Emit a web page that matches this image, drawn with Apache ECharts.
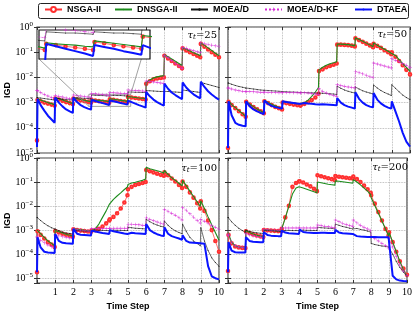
<!DOCTYPE html>
<html><head><meta charset="utf-8">
<script src="https://cdn.jsdelivr.net/npm/echarts@6/dist/echarts.min.js"></script>
<style>html,body{margin:0;padding:0;background:#fff}#c{width:415px;height:312px}</style>
</head><body><div id="c"></div>
<script>
// x positions (time steps: each unit = one environmental change period)
const TIME_STEPS = [0,0.03,0.2,0.4,0.6,0.8,0.97,
 1,1.2,1.4,1.6,1.8,1.97, 2,2.2,2.4,2.6,2.8,2.97, 3,3.2,3.4,3.6,3.8,3.97,
 4,4.2,4.4,4.6,4.8,4.97, 5,5.2,5.4,5.6,5.8,5.97, 6,6.2,6.4,6.6,6.8,6.97,
 7,7.2,7.4,7.6,7.8,7.97, 8,8.2,8.4,8.6,8.8,8.97, 9,9.2,9.4,9.6,9.8,10];
const SERIES_NAMES = ['NSGA-II','DNSGA-II','MOEA/D','MOEA/D-KF','DTAEA'];
const TAU_LABELS = ['25','50','100','200'];
const X_TICK_LABELS = ['1','2','3','4','5','6','7','8','9','10'];
const INSET_X_RANGE = [2.85, 5.15];
const INSET_Y_LOG_RANGE = [-3.15, -2.67];

// log10(IGD)
// tau_t = 25
const P1_NSGA2 = [-4.5,-2.9,-2.95,-3.0,-3.04,-3.08,-3.12,
-2.84,-2.88,-2.93,-2.98,-3.02,-3.06, -2.84,-2.88,-2.91,-2.94,-2.97,-3.0,
-2.9,-2.92,-2.94,-2.96,-2.98,-3.0, -2.87,-2.89,-2.92,-2.94,-2.96,-2.98,
-2.78,-2.8,-2.82,-2.84,-2.86,-2.88, -2.25,-2.15,-2.08,-2.04,-2.02,-2.0,
-1.14,-1.25,-1.35,-1.45,-1.55,-1.64, -0.85,-0.93,-1.0,-1.07,-1.14,-1.2,
-0.67,-0.78,-0.89,-1.0,-1.1,-1.2];
const P1_DNSGA2 = [-4.5,-2.86,-2.9,-2.95,-3.0,-3.04,-3.08,
-2.8,-2.85,-2.9,-2.95,-3.0,-3.03, -2.82,-2.85,-2.88,-2.91,-2.94,-2.97,
-2.88,-2.9,-2.91,-2.92,-2.94,-2.95, -2.85,-2.87,-2.89,-2.91,-2.93,-2.95,
-2.76,-2.78,-2.8,-2.82,-2.83,-2.84, -2.2,-2.1,-2.02,-1.98,-1.95,-1.93,
-1.1,-1.18,-1.27,-1.36,-1.45,-1.53, -0.81,-0.88,-0.95,-1.02,-1.08,-1.14,
-0.63,-0.73,-0.83,-0.93,-1.04,-1.14];
const P1_MOEAD = [-2.8,-2.8,-2.82,-2.84,-2.86,-2.88,-2.9,
-2.82,-2.84,-2.86,-2.88,-2.89,-2.9, -2.8,-2.81,-2.82,-2.83,-2.84,-2.85,
-2.7,-2.71,-2.72,-2.72,-2.73,-2.74, -2.7,-2.71,-2.72,-2.72,-2.73,-2.74,
-2.58,-2.58,-2.59,-2.59,-2.6,-2.6, -2.52,-2.53,-2.54,-2.55,-2.56,-2.56,
-2.55,-2.56,-2.57,-2.58,-2.59,-2.6, -2.5,-2.52,-2.54,-2.56,-2.58,-2.6,
-2.2,-2.24,-2.28,-2.32,-2.36,-2.4];
const P1_MOEADKF = [-2.52,-2.53,-2.6,-2.68,-2.74,-2.8,-2.84,
-2.72,-2.75,-2.78,-2.82,-2.85,-2.88, -2.7,-2.72,-2.74,-2.76,-2.78,-2.8,
-2.64,-2.65,-2.67,-2.68,-2.7,-2.71, -2.6,-2.61,-2.62,-2.63,-2.64,-2.65,
-2.5,-2.51,-2.52,-2.53,-2.54,-2.55, -2.14,-2.16,-2.18,-2.2,-2.22,-2.25,
-1.12,-1.22,-1.33,-1.44,-1.55,-1.65, -0.81,-0.85,-0.9,-0.94,-0.98,-1.02,
-0.63,-0.66,-0.69,-0.72,-0.75,-0.77];
const P1_DTAEA = [-4.76,-2.85,-3.1,-3.32,-3.52,-3.67,-3.8,
-2.8,-3.0,-3.15,-3.27,-3.35,-3.41, -2.8,-2.98,-3.1,-3.18,-3.24,-3.28,
-2.9,-2.94,-2.98,-3.02,-3.06,-3.1, -2.92,-2.95,-2.98,-3.02,-3.05,-3.08,
-2.92,-2.98,-3.04,-3.1,-3.15,-3.2, -2.58,-2.75,-2.88,-2.98,-3.06,-3.12,
-2.25,-2.45,-2.6,-2.7,-2.79,-2.86, -2.2,-2.4,-2.55,-2.67,-2.76,-2.83,
-2.17,-2.38,-2.55,-2.68,-2.79,-2.88];

// tau_t = 50
const P2_NSGA2 = [-4.8,-2.97,-3.1,-3.22,-3.34,-3.46,-3.56,
-2.97,-3.08,-3.18,-3.27,-3.35,-3.42, -2.95,-3.02,-3.1,-3.17,-3.22,-3.27,
-3.0,-3.02,-3.05,-3.08,-3.1,-3.12, -3.1,-3.05,-2.98,-2.9,-2.8,-2.65,
-1.75,-1.68,-1.6,-1.55,-1.5,-1.45, -0.7,-0.7,-0.71,-0.72,-0.74,-0.77,
-0.45,-0.52,-0.59,-0.66,-0.73,-0.8, -0.67,-0.75,-0.83,-0.92,-1.0,-1.08,
-1.0,-1.18,-1.35,-1.52,-1.7,-1.88];
const P2_DNSGA2 = [-4.8,-2.95,-3.08,-3.2,-3.32,-3.44,-3.54,
-2.95,-3.06,-3.16,-3.25,-3.33,-3.4, -2.92,-3.0,-3.07,-3.13,-3.19,-3.25,
-2.95,-2.98,-3.0,-3.02,-3.04,-3.05, -3.05,-3.0,-2.9,-2.75,-2.58,-2.4,
-1.7,-1.6,-1.52,-1.46,-1.42,-1.38, -0.68,-0.68,-0.69,-0.7,-0.72,-0.75,
-0.43,-0.5,-0.57,-0.64,-0.71,-0.78, -0.63,-0.72,-0.8,-0.88,-0.96,-1.04,
-0.97,-1.13,-1.29,-1.45,-1.6,-1.76];
const P2_MOEAD = [-2.22,-2.22,-2.27,-2.32,-2.36,-2.39,-2.42,
-2.42,-2.44,-2.46,-2.48,-2.5,-2.51, -2.51,-2.52,-2.53,-2.54,-2.55,-2.56,
-2.56,-2.57,-2.58,-2.58,-2.59,-2.6, -2.6,-2.6,-2.61,-2.61,-2.62,-2.62,
-2.62,-2.63,-2.64,-2.65,-2.66,-2.68, -2.35,-2.43,-2.5,-2.55,-2.59,-2.62,
-2.38,-2.46,-2.53,-2.58,-2.62,-2.66, -2.3,-2.42,-2.52,-2.6,-2.66,-2.72,
-2.29,-2.43,-2.57,-2.7,-2.8,-2.88];
const P2_MOEADKF = [-2.42,-2.42,-2.46,-2.5,-2.53,-2.55,-2.57,
-2.55,-2.56,-2.57,-2.58,-2.59,-2.6, -2.58,-2.59,-2.6,-2.6,-2.61,-2.61,
-2.6,-2.6,-2.6,-2.61,-2.61,-2.62, -2.6,-2.61,-2.62,-2.64,-2.66,-2.68,
-2.45,-2.55,-2.62,-2.68,-2.72,-2.75, -2.29,-2.32,-2.35,-2.38,-2.4,-2.42,
-1.76,-1.81,-1.86,-1.92,-1.97,-2.02, -1.43,-1.47,-1.51,-1.55,-1.59,-1.63,
-1.26,-1.32,-1.38,-1.45,-1.52,-1.6];
const P2_DTAEA = [-4.8,-2.95,-3.5,-3.8,-3.88,-3.92,-3.94,
-2.95,-3.15,-3.27,-3.35,-3.41,-3.45, -2.92,-3.05,-3.13,-3.18,-3.21,-3.24,
-2.95,-2.98,-3.0,-3.02,-3.04,-3.05, -3.0,-3.02,-3.04,-3.05,-3.07,-3.08,
-3.06,-3.07,-3.08,-3.09,-3.1,-3.11, -2.82,-3.0,-3.1,-3.16,-3.2,-3.24,
-2.59,-2.85,-3.0,-3.1,-3.16,-3.19, -2.62,-2.88,-3.03,-3.13,-3.2,-3.24,
-2.95,-3.35,-3.75,-4.2,-4.55,-4.75];

// tau_t = 100
const P3_NSGA2 = [-4.75,-3.05,-3.2,-3.35,-3.5,-3.6,-3.7,
-3.04,-3.1,-3.15,-3.19,-3.23,-3.27, -2.97,-3.0,-3.02,-3.04,-3.06,-3.07,
-3.02,-3.0,-2.95,-2.85,-2.72,-2.6, -2.55,-2.45,-2.3,-2.1,-1.85,-1.55,
-1.3,-1.2,-1.12,-1.08,-1.04,-1.0, -0.5,-0.55,-0.6,-0.65,-0.7,-0.74,
-0.6,-0.72,-0.85,-0.98,-1.12,-1.25, -0.98,-1.2,-1.43,-1.65,-1.88,-2.1,
-1.8,-2.2,-2.6,-3.0,-3.45,-3.9];
const P3_DNSGA2 = [-3.0,-3.0,-3.15,-3.3,-3.45,-3.55,-3.65,
-3.02,-3.07,-3.12,-3.17,-3.21,-3.25, -2.95,-2.97,-2.99,-3.01,-3.03,-3.05,
-3.0,-2.95,-2.75,-2.47,-2.2,-1.93, -1.86,-1.72,-1.58,-1.45,-1.31,-1.2,
-1.1,-1.04,-1.01,-0.97,-0.93,-0.87, -0.38,-0.45,-0.49,-0.53,-0.57,-0.63,
-0.52,-0.68,-0.82,-0.93,-1.05,-1.16, -0.93,-1.15,-1.38,-1.6,-1.82,-2.02,
-1.78,-2.1,-2.45,-2.78,-3.1,-3.42];
const P3_MOEAD = [-2.47,-2.47,-2.6,-2.72,-2.82,-2.9,-2.95,
-2.95,-3.02,-3.08,-3.12,-3.14,-3.16, -3.0,-3.02,-3.03,-3.04,-3.05,-3.05,
-3.0,-3.0,-3.01,-3.01,-3.02,-3.02, -3.0,-3.0,-3.01,-3.01,-3.02,-3.02,
-2.88,-2.9,-2.92,-2.93,-2.94,-2.95, -2.55,-2.65,-2.73,-2.79,-2.84,-2.87,
-2.62,-2.8,-2.93,-3.03,-3.1,-3.15, -2.75,-3.05,-3.3,-3.45,-3.56,-3.65,
-2.9,-3.45,-3.85,-4.15,-4.35,-4.5];
const P3_MOEADKF = [-3.29,-3.29,-3.42,-3.53,-3.62,-3.69,-3.74,
-3.2,-3.24,-3.27,-3.3,-3.33,-3.36, -2.95,-2.98,-3.0,-3.02,-3.04,-3.06,
-2.93,-2.93,-2.93,-2.93,-2.93,-2.93, -2.92,-2.92,-2.92,-2.92,-2.92,-2.92,
-2.75,-2.76,-2.77,-2.78,-2.8,-2.81, -2.47,-2.55,-2.61,-2.66,-2.71,-2.75,
-2.13,-2.22,-2.3,-2.38,-2.48,-2.58, -2.05,-2.18,-2.32,-2.46,-2.6,-2.72,
-2.55,-2.63,-2.72,-2.8,-2.88,-2.96];
const P3_DTAEA = [-4.75,-3.3,-3.72,-3.9,-3.93,-3.94,-3.95,
-3.16,-3.45,-3.53,-3.55,-3.56,-3.57, -2.95,-3.15,-3.19,-3.2,-3.21,-3.22,
-3.02,-3.06,-3.09,-3.12,-3.14,-3.16, -3.0,-3.05,-3.08,-3.11,-3.14,-3.16,
-3.08,-3.11,-3.13,-3.14,-3.15,-3.16, -2.75,-3.0,-3.1,-3.17,-3.22,-3.25,
-2.88,-3.15,-3.25,-3.3,-3.35,-3.4, -3.21,-3.45,-3.52,-3.53,-3.54,-3.55,
-3.55,-3.57,-4.5,-4.92,-5.0,-5.05];

// tau_t = 200
const P4_NSGA2 = [-4.7,-3.2,-3.55,-3.68,-3.72,-3.74,-3.75,
-3.05,-3.12,-3.18,-3.22,-3.26,-3.29, -3.0,-3.01,-3.02,-3.03,-3.04,-3.05,
-2.95,-2.47,-1.99,-1.2,-1.04,-0.98, -0.97,-1.02,-1.1,-1.18,-1.28,-1.38,
-0.72,-0.76,-0.8,-0.84,-0.88,-0.92, -0.75,-0.78,-0.8,-0.82,-0.84,-0.85,
-0.77,-0.88,-1.0,-1.15,-1.3,-1.45, -1.55,-1.9,-2.25,-2.6,-2.95,-3.22,
-3.09,-3.5,-3.9,-4.3,-4.6,-4.86];
const P4_DNSGA2 = [-3.1,-3.15,-3.5,-3.65,-3.7,-3.72,-3.73,
-3.02,-3.1,-3.16,-3.21,-3.25,-3.29, -3.0,-3.0,-3.01,-3.02,-3.03,-3.04,
-2.95,-2.5,-2.0,-1.5,-1.25,-1.2, -1.2,-1.25,-1.3,-1.35,-1.4,-1.45,
-1.0,-1.03,-1.06,-1.09,-1.11,-1.13, -0.95,-0.97,-0.99,-1.01,-1.03,-1.05,
-0.9,-1.0,-1.12,-1.25,-1.38,-1.52, -1.65,-1.98,-2.3,-2.62,-2.95,-3.25,
-3.1,-3.5,-3.9,-4.3,-4.65,-4.93];
const P4_MOEAD = [-2.47,-2.47,-2.65,-2.8,-2.92,-3.02,-3.09,
-3.0,-3.05,-3.09,-3.11,-3.13,-3.14, -3.0,-3.01,-3.02,-3.03,-3.04,-3.05,
-3.0,-3.01,-3.01,-3.02,-3.02,-3.02, -3.0,-3.0,-3.01,-3.01,-3.02,-3.02,
-2.88,-2.9,-2.91,-2.92,-2.93,-2.95, -2.75,-2.8,-2.85,-2.88,-2.92,-2.95,
-2.88,-2.93,-2.97,-3.0,-3.04,-3.08, -3.55,-3.6,-3.63,-3.66,-3.68,-3.7,
-3.7,-4.0,-4.3,-4.55,-4.75,-4.9];
const P4_MOEADKF = [-3.2,-3.2,-3.5,-3.65,-3.7,-3.72,-3.74,
-3.15,-3.2,-3.24,-3.27,-3.29,-3.3, -2.98,-2.99,-3.0,-3.0,-3.01,-3.01,
-2.91,-2.91,-2.91,-2.91,-2.91,-2.91, -2.91,-2.91,-2.91,-2.91,-2.91,-2.91,
-2.79,-2.81,-2.84,-2.86,-2.88,-2.91, -2.58,-2.65,-2.72,-2.77,-2.81,-2.84,
-2.58,-2.7,-2.8,-2.88,-2.95,-3.02, -3.25,-3.35,-3.45,-3.55,-3.65,-3.75,
-3.35,-3.7,-4.1,-4.45,-4.7,-4.9];
const P4_DTAEA = [-4.75,-3.5,-3.85,-3.92,-3.93,-3.93,-3.93,
-3.29,-3.45,-3.48,-3.49,-3.5,-3.5, -3.09,-3.2,-3.23,-3.24,-3.25,-3.25,
-3.02,-3.1,-3.13,-3.14,-3.15,-3.16, -2.98,-3.08,-3.1,-3.11,-3.12,-3.12,
-3.1,-3.11,-3.11,-3.12,-3.12,-3.12, -2.99,-3.1,-3.13,-3.14,-3.15,-3.16,
-3.2,-3.25,-3.27,-3.28,-3.29,-3.29, -3.29,-3.29,-3.3,-3.3,-3.3,-3.3,
-3.3,-4.9,-5.05,-5.1,-5.12,-5.13];

const PANELS = [
  [P1_NSGA2, P1_DNSGA2, P1_MOEAD, P1_MOEADKF, P1_DTAEA],
  [P2_NSGA2, P2_DNSGA2, P2_MOEAD, P2_MOEADKF, P2_DTAEA],
  [P3_NSGA2, P3_DNSGA2, P3_MOEAD, P3_MOEADKF, P3_DTAEA],
  [P4_NSGA2, P4_DNSGA2, P4_MOEAD, P4_MOEADKF, P4_DTAEA]
];
const Y_MIN_LOG = [-5, -5, -5.2, -5.2];

const PLUS = 'path://M4.4,0H5.6V4.4H10V5.6H5.6V10H4.4V5.6H0V4.4H4.4Z';
const STYLES = [
  {color:'#ff3030', width:0.7, type:'solid', symbol:'emptyCircle', size:2.6, item:{color:'#ff3030', borderWidth:0.6, borderColor:'#ff3030'}},
  {color:'#1c8c1c', width:1.1, type:'solid', symbol:'none', size:0},
  {color:'#111111', width:0.6, type:'solid', symbol:'circle', size:1},
  {color:'#d62ad6', width:0.8, type:'dotted', symbol:PLUS, size:3.6},
  {color:'#0a14ff', width:2, type:'solid', symbol:'none', size:0}
];
const LEGEND_ICON_H = [6, 1.6, 3, 5, 2.4];

const GRIDS = [
  {left:37, top:27, width:182, height:126},
  {left:228, top:27, width:182, height:126},
  {left:37, top:158, width:182, height:127},
  {left:228, top:158, width:182, height:127}
];

function logLabel(v){
  const e = Math.log10(v); const r = Math.round(e);
  if (Math.abs(e - r) > 1e-6) return '';
  return '{b|10}{e|' + (r === 0 ? '0' : '\u2212' + (-r)) + '}';
}
const labelRich = {
  b:{fontFamily:'Liberation Serif', fontSize:10, color:'#000'},
  e:{fontFamily:'Liberation Serif', fontSize:7, color:'#000', padding:[0,0,6,0]}
};
const gridLine = {show:true, lineStyle:{color:'#a8a8a8', type:'dotted', width:0.8}};

const grid = GRIDS.map(g => Object.assign({show:true, borderColor:'#444', borderWidth:1.2}, g));
grid.push({left:39, top:30, width:111, height:29, show:true, backgroundColor:'#fff', borderColor:'#111', borderWidth:1.2, z:10});

const xAxis = [], yAxis = [];
for (let p = 0; p < 4; p++) {
  const bottom = p >= 2;
  xAxis.push({type:'value', gridIndex:p, min:0, max:10, interval:1, position:'bottom',
    axisLine:{show:false}, axisTick:{show:true, inside:true, length:3, lineStyle:{color:'#333'}},
    axisLabel:{show:bottom, margin:4, fontFamily:'Liberation Serif', fontSize:10, color:'#000',
      formatter:v => (v >= 1 ? X_TICK_LABELS[v - 1] : '')},
    splitLine:gridLine,
    name: bottom ? 'Time Step' : '', nameLocation:'middle', nameGap:19,
    nameTextStyle:{fontFamily:'Liberation Sans', fontWeight:'bold', fontSize:9, color:'#000'}});
  yAxis.push({type:'log', logBase:10, gridIndex:p, min:Math.pow(10, Y_MIN_LOG[p]), max:1, position:'left',
    axisLine:{show:false}, axisTick:{show:true, inside:true, length:3, lineStyle:{color:'#333'}},
    axisLabel:{show:(p % 2 === 0), margin:4, formatter:logLabel, rich:labelRich},
    splitLine:gridLine,
    name: (p % 2 === 0) ? 'IGD' : '', nameLocation:'middle', nameGap:24, nameRotate:90,
    nameTextStyle:{fontFamily:'Liberation Sans', fontWeight:'bold', fontSize:9, color:'#000'}});
}
xAxis.push({type:'value', gridIndex:4, min:INSET_X_RANGE[0], max:INSET_X_RANGE[1], show:false});
yAxis.push({type:'log', logBase:10, gridIndex:4, min:Math.pow(10, INSET_Y_LOG_RANGE[0]), max:Math.pow(10, INSET_Y_LOG_RANGE[1]), show:false});
for (let p = 0; p < 4; p++) {
  xAxis.push({type:'value', gridIndex:p, min:0, max:10, interval:1, position:'top',
    axisLine:{show:false}, axisTick:{show:true, inside:true, length:3, lineStyle:{color:'#333'}},
    axisLabel:{show:false}, splitLine:{show:false}});
  yAxis.push({type:'log', logBase:10, gridIndex:p, min:Math.pow(10, Y_MIN_LOG[p]), max:1, position:'right',
    axisLine:{show:false}, axisTick:{show:true, inside:true, length:3, lineStyle:{color:'#333'}},
    axisLabel:{show:false}, splitLine:{show:false}});
}

function mkSeries(name, arr, s, xi, yi, z) {
  const st = STYLES[s];
  const o = {
    name:name, type:'line', xAxisIndex:xi, yAxisIndex:yi, z:z, color:st.color,
    data: TIME_STEPS.map((t, i) => [t, Math.pow(10, arr[i])]),
    lineStyle:{width:st.width, type:st.type, color:st.color},
    itemStyle: st.item || {color:st.color},
    emphasis:{disabled:true}, animation:false, clip:true
  };
  if (st.symbol === 'none') { o.symbol = 'none'; o.showSymbol = false; }
  else { o.symbol = st.symbol; o.symbolSize = st.size; o.showSymbol = true; o.showAllSymbol = true; }
  return o;
}
const series = [];
for (let p = 0; p < 4; p++) for (let s = 0; s < 5; s++)
  series.push(mkSeries(SERIES_NAMES[s], PANELS[p][s], s, p, p, 2 + s * 0.01));
series[0].markArea = {silent:true, itemStyle:{color:'rgba(0,0,0,0)', borderColor:'#888', borderWidth:0.8},
  data:[[{xAxis:INSET_X_RANGE[0], yAxis:Math.pow(10, INSET_Y_LOG_RANGE[0])},
         {xAxis:INSET_X_RANGE[1], yAxis:Math.pow(10, INSET_Y_LOG_RANGE[1])}]]};
for (let s = 0; s < 5; s++) series.push(mkSeries(SERIES_NAMES[s], PANELS[0][s], s, 4, 4, 11 + s * 0.01));

const LEGEND_LEFT = [44, 114, 190, 264, 354];
const legend = SERIES_NAMES.map((n, i) => ({
  data:[n], left:LEGEND_LEFT[i], top:5, itemWidth:17, itemHeight:LEGEND_ICON_H[i], itemGap:0, padding:0, z:5,
  textStyle:{fontFamily:'Liberation Sans', fontWeight:'bold', fontSize:9, color:'#000'},
  selectedMode:false
}));

const tauRich = {
  t:{fontFamily:'DejaVu Serif', fontStyle:'italic', fontSize:10, color:'#000'},
  s:{fontFamily:'DejaVu Serif', fontStyle:'italic', fontSize:7, color:'#000', padding:[5,0,0,0]},
  n:{fontFamily:'DejaVu Serif', fontSize:10, color:'#000'}
};
const TAU_POS = [[217,35],[407,34],[217,168],[408,167]];
const graphic = [{type:'rect', id:'lgbox', shape:{x:38.5, y:3.5, width:370, height:15, r:2}, style:{fill:'#fff', stroke:'#222', lineWidth:1}, z:0}];
TAU_LABELS.forEach((t, i) => graphic.push({type:'text', id:'tau' + i, x:TAU_POS[i][0], y:TAU_POS[i][1], z:20,
  style:{text:'{t|\u03c4}{s|t}{n|=' + t + '}', align:'right', verticalAlign:'middle', rich:tauRich}}));

const chart = echarts.init(document.getElementById('c'), null, {renderer:'canvas'});
chart.setOption({animation:false, backgroundColor:'#fff', grid, xAxis, yAxis, series, legend, graphic});

const rTR = chart.convertToPixel({gridIndex:0}, [INSET_X_RANGE[1], Math.pow(10, INSET_Y_LOG_RANGE[1])]);
const rBL = chart.convertToPixel({gridIndex:0}, [INSET_X_RANGE[0], Math.pow(10, INSET_Y_LOG_RANGE[0])]);
const iTR = chart.convertToPixel({gridIndex:4}, [INSET_X_RANGE[1], Math.pow(10, INSET_Y_LOG_RANGE[1])]);
const iBL = chart.convertToPixel({gridIndex:4}, [INSET_X_RANGE[0], Math.pow(10, INSET_Y_LOG_RANGE[0])]);
chart.setOption({graphic:[
  {type:'line', id:'con1', z:3, shape:{x1:iTR[0], y1:iTR[1], x2:rTR[0], y2:rTR[1]}, style:{stroke:'#888', lineWidth:0.8}},
  {type:'line', id:'con2', z:3, shape:{x1:iBL[0], y1:iBL[1], x2:rBL[0], y2:rBL[1]}, style:{stroke:'#888', lineWidth:0.8}}
]});
</script></body></html>
